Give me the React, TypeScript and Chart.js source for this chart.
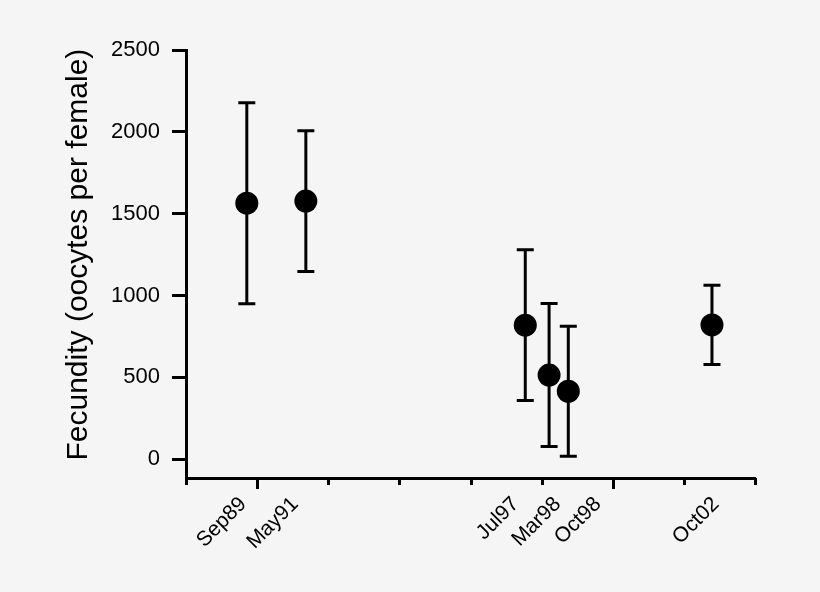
import React, { useEffect, useRef } from 'react';
import { Chart, registerables } from 'chart.js';

Chart.register(...registerables);

const sampleLabels = ['Sep89', 'May91', 'Jul97', 'Mar98', 'Oct98', 'Oct02'];
const sampleYears = [1989.71, 1991.37, 1997.54, 1998.21, 1998.75, 2002.79];
const fecundityMean = [1564, 1577, 819, 514, 415, 820];
const fecunditySd = [614, 430, 461, 437, 397, 242];
// where each date label sits on the time axis (Mar98 / Oct98 pushed right so they don't collide)
const labelYears = [1989.61, 1991.07, 1997.27, 1998.45, 1999.58, 2002.9];
const yTicks = [0, 500, 1000, 1500, 2000, 2500];
const xTickYears = [1988, 1990, 1992, 1994, 1996, 1998, 2000, 2002, 2004];
const xMajorYears = [1990, 2000];
const yTitleText = 'Fecundity (oocytes per female)';

const FONT = "'Liberation Sans', Arial, Helvetica, sans-serif";

const errorBars = {
  id: 'errorBars',
  beforeDatasetsDraw(chart: Chart) {
    const { ctx } = chart;
    const x = chart.scales.x;
    const y = chart.scales.y;
    ctx.save();
    ctx.strokeStyle = '#000';
    ctx.lineWidth = 3;
    sampleYears.forEach((yr, i) => {
      const px = x.getPixelForValue(yr);
      const top = y.getPixelForValue(fecundityMean[i] + fecunditySd[i]);
      const bot = y.getPixelForValue(fecundityMean[i] - fecunditySd[i]);
      ctx.beginPath();
      ctx.moveTo(px, top);
      ctx.lineTo(px, bot);
      ctx.moveTo(px - 8.5, top);
      ctx.lineTo(px + 8.5, top);
      ctx.moveTo(px - 8.5, bot);
      ctx.lineTo(px + 8.5, bot);
      ctx.stroke();
    });
    ctx.restore();
  },
};

const yearTicks = {
  id: 'yearTicks',
  afterDraw(chart: Chart) {
    const { ctx, chartArea } = chart;
    const x = chart.scales.x;
    ctx.save();
    ctx.strokeStyle = '#000';
    ctx.lineWidth = 3;
    xTickYears.forEach((yr) => {
      const px = Math.round(x.getPixelForValue(yr)) + 0.5;
      const len = xMajorYears.includes(yr) ? 11 : 7;
      ctx.beginPath();
      ctx.moveTo(px, chartArea.bottom);
      ctx.lineTo(px, chartArea.bottom + len);
      ctx.stroke();
    });
    ctx.restore();
  },
};

const yTitle = {
  id: 'yTitle',
  afterDraw(chart: Chart) {
    const { ctx } = chart;
    const y = chart.scales.y;
    ctx.save();
    ctx.translate(87, y.getPixelForValue(1250));
    ctx.rotate(-Math.PI / 2);
    ctx.font = `30px ${FONT}`;
    ctx.fillStyle = '#000';
    ctx.textAlign = 'center';
    ctx.textBaseline = 'alphabetic';
    ctx.fillText(yTitleText, 0, 0);
    ctx.restore();
  },
};

const FecundityChart: React.FC = () => {
  const canvasRef = useRef<HTMLCanvasElement | null>(null);
  const chartInstance = useRef<Chart | null>(null);

  useEffect(() => {
    if (!canvasRef.current) return;
    const ctx = canvasRef.current.getContext('2d');
    if (!ctx) return;

    Chart.defaults.font.family = FONT;
    Chart.defaults.color = '#000';

    chartInstance.current = new Chart(ctx, {
      type: 'scatter',
      data: {
        datasets: [
          {
            label: 'Fecundity',
            data: sampleYears.map((yr, i) => ({ x: yr, y: fecundityMean[i] })),
            backgroundColor: '#000',
            borderWidth: 0,
            pointRadius: 11.5,
            pointHoverRadius: 11.5,
          },
        ],
      },
      options: {
        animation: false,
        responsive: true,
        maintainAspectRatio: false,
        layout: { padding: { left: 0, top: 50, right: 65, bottom: 0 } },
        plugins: {
          legend: { display: false },
          tooltip: { enabled: false },
        },
        scales: {
          x: {
            type: 'linear',
            min: 1988,
            max: 2004,
            afterBuildTicks: (scale: any) => {
              scale.ticks = labelYears.map((v) => ({ value: v }));
            },
            afterFit: (scale: any) => {
              scale.height = 114;
            },
            grid: { display: false, drawTicks: false },
            border: { display: true, color: '#000', width: 3 },
            ticks: {
              autoSkip: false,
              minRotation: 45,
              maxRotation: 45,
              padding: 14,
              font: { size: 21 },
              color: '#000',
              callback: (_v: any, i: number) => sampleLabels[i],
            },
          },
          y: {
            type: 'linear',
            min: -115,
            max: 2500,
            afterBuildTicks: (scale: any) => {
              scale.ticks = yTicks.map((v) => ({ value: v }));
            },
            afterFit: (scale: any) => {
              scale.width = 186;
            },
            grid: {
              drawOnChartArea: false,
              drawTicks: true,
              tickLength: 14,
              color: '#000',
              lineWidth: 3,
            },
            border: { display: true, color: '#000', width: 3 },
            ticks: {
              padding: 12,
              font: { size: 22 },
              color: '#000',
              callback: (v: any) => String(v),
            },
          },
        },
      },
      plugins: [errorBars, yearTicks, yTitle],
    });

    return () => {
      if (chartInstance.current) {
        chartInstance.current.destroy();
        chartInstance.current = null;
      }
    };
  }, []);

  return <canvas ref={canvasRef} />;
};

export default function App() {
  return (
    <div
      style={{
        position: 'absolute',
        left: 0,
        top: 0,
        width: 820,
        height: 592,
        background: '#f5f5f5',
      }}
    >
      <FecundityChart />
    </div>
  );
}
